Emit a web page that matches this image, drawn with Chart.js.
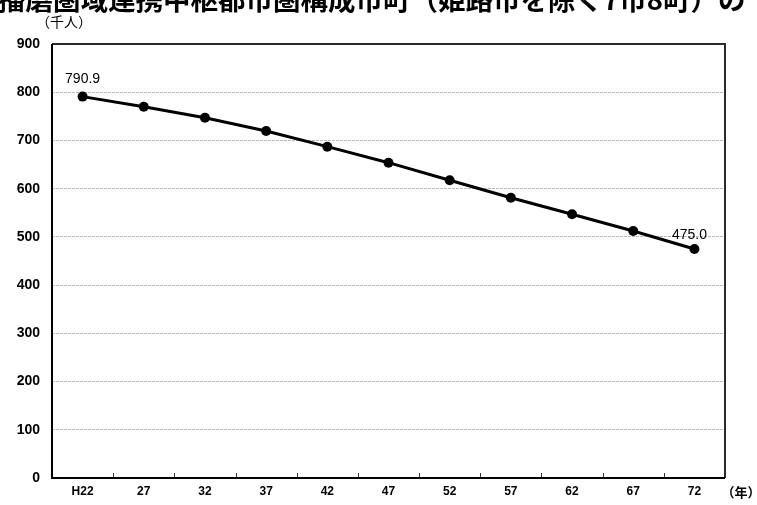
<!DOCTYPE html>
<html>
<head>
<meta charset="utf-8">
<script src="https://cdn.jsdelivr.net/npm/chart.js@4.4.1/dist/chart.umd.min.js"></script>
<style>
  html, body { margin: 0; padding: 0; background: #fff; }
  #wrap { width: 757px; height: 505px; position: relative; }
</style>
</head>
<body>
<div id="wrap"><canvas id="c" width="757" height="505"></canvas></div>
<script>
// Projected population (thousand people), every five years from H22
const years = ['H22', '27', '32', '37', '42', '47', '52', '57', '62', '67', '72'];
const population = [790.9, 770.0, 747.2, 719.6, 687.1, 653.9, 617.4, 581.3, 546.9, 512.2, 475.0];
const yTicks = [0, 100, 200, 300, 400, 500, 600, 700, 800, 900];
const titleText = '播磨圏域連携中枢都市圏構成市町（姫路市を除く7市8町）の';
const unitY = '（千人）';
const unitX = '（年）';

const FONT = '"Liberation Sans", Arial, sans-serif';
const CJK = '"Noto Sans CJK JP", "Noto Sans CJK SC", sans-serif';

// Frame, inward category ticks, captions and end-point value labels
const decor = {
  id: 'decor',
  beforeDatasetsDraw(chart) {
    const { ctx, chartArea: a, scales: { x } } = chart;
    ctx.save();
    // small upward ticks on the category boundaries
    ctx.strokeStyle = '#333';
    ctx.lineWidth = 1;
    for (let i = 0; i < years.length - 1; i++) {
      const px = Math.round((x.getPixelForValue(i) + x.getPixelForValue(i + 1)) / 2) + 0.5;
      ctx.beginPath();
      ctx.moveTo(px, a.bottom);
      ctx.lineTo(px, a.bottom - 5);
      ctx.stroke();
    }
    // plot frame
    ctx.lineWidth = 2;
    ctx.strokeStyle = '#2a2a2a';
    ctx.beginPath();
    ctx.moveTo(a.left, a.top);
    ctx.lineTo(a.right, a.top);
    ctx.lineTo(a.right, a.bottom);
    ctx.stroke();
    ctx.strokeStyle = '#000';
    ctx.beginPath();
    ctx.moveTo(a.left, a.top);
    ctx.lineTo(a.left, a.bottom);
    ctx.lineTo(a.right, a.bottom);
    ctx.stroke();
    ctx.restore();
  },
  afterDraw(chart) {
    const { ctx } = chart;
    ctx.save();
    ctx.fillStyle = '#000';
    // heading (runs past the top edge of the canvas)
    ctx.font = 'bold 27.5px ' + CJK;
    ctx.textAlign = 'left';
    ctx.textBaseline = 'middle';
    ctx.fillText(titleText, -2, 0);
    // unit captions
    ctx.font = '14px ' + CJK;
    ctx.textAlign = 'center';
    ctx.fillText(unitY, 64, 22);
    ctx.font = 'bold 13px ' + CJK;
    ctx.fillText(unitX, 741, 492);
    // value labels for first and last points
    const meta = chart.getDatasetMeta(0);
    const first = meta.data[0];
    const last = meta.data[population.length - 1];
    ctx.font = '14px ' + FONT;
    ctx.textBaseline = 'bottom';
    ctx.fillText(population[0].toFixed(1), first.x, first.y - 10);
    ctx.fillText(population[population.length - 1].toFixed(1), last.x - 5, last.y - 7);
    ctx.restore();
  }
};

new Chart(document.getElementById('c'), {
  type: 'line',
  data: {
    labels: years,
    datasets: [{
      data: population,
      borderColor: '#000',
      backgroundColor: '#000',
      borderWidth: 3,
      pointRadius: 5,
      pointBackgroundColor: '#000',
      pointBorderWidth: 0,
      tension: 0,
      clip: false
    }]
  },
  options: {
    responsive: false,
    animation: false,
    devicePixelRatio: 1,
    layout: { padding: { top: 44, right: 32, left: 0, bottom: 0 } },
    plugins: { legend: { display: false }, tooltip: { enabled: false }, title: { display: false } },
    scales: {
      x: {
        type: 'category',
        offset: true,
        grid: { display: false, drawTicks: false },
        border: { display: false },
        ticks: { color: '#000', font: { family: FONT, size: 12, weight: 'bold' }, padding: 6, maxRotation: 0 },
        afterFit(s) { s.height = 27; }
      },
      y: {
        min: 0,
        max: 900,
        afterBuildTicks(s) { s.ticks = yTicks.map(v => ({ value: v })); },
        grid: {
          color: (c) => (c.tick.value === 0 || c.tick.value === 900) ? 'rgba(0,0,0,0)' : '#b4bcbc',
          lineWidth: 1,
          drawTicks: false
        },
        border: { display: false, dash: [3, 1] },
        ticks: { color: '#000', font: { family: FONT, size: 14, weight: 'bold' }, padding: 12 },
        afterFit(s) { s.width = 52; }
      }
    }
  },
  plugins: [decor]
});
</script>
</body>
</html>
